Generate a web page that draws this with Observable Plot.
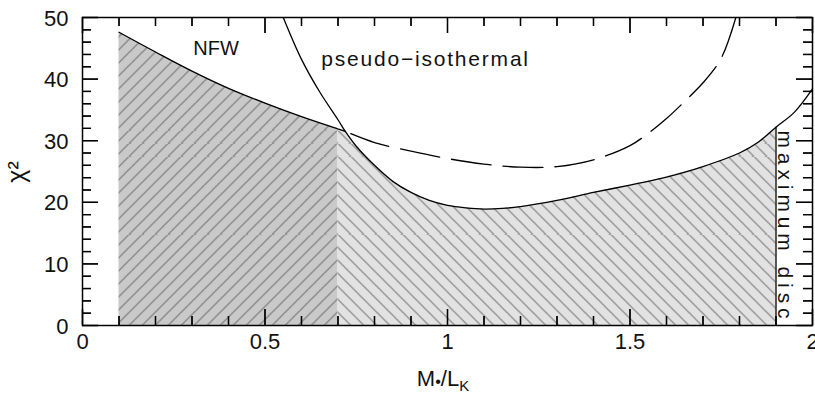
<!DOCTYPE html>
<html>
<head>
<meta charset="utf-8">
<script src="https://cdn.jsdelivr.net/npm/d3@7"></script>
<script src="https://cdn.jsdelivr.net/npm/@observablehq/plot@0.6"></script>
<style>
  body { margin: 0; background: #fff; }
  #chart svg { display: block; }
  #patterns { position: absolute; width: 0; height: 0; overflow: hidden; }
  .label-iso text { letter-spacing: 1.8px; }
  .label-disc text { letter-spacing: 4.9px; }
</style>
</head>
<body>
<!-- hatch fills shared by the shaded ranges -->
<svg id="patterns" aria-hidden="true">
  <defs>
    <pattern id="hatch-nfw" patternUnits="userSpaceOnUse" width="13" height="13">
      <rect width="13" height="13" fill="#c9c9c9"></rect>
      <path d="M0,13L13,0M-2,2L2,-2M11,15L15,11" stroke="#787878" stroke-width="1.2" fill="none"></path>
    </pattern>
    <pattern id="hatch-iso" patternUnits="userSpaceOnUse" width="13" height="13">
      <rect width="13" height="13" fill="#e2e2e2"></rect>
      <path d="M0,0L13,13M-2,11L2,15M11,-2L15,2" stroke="#808080" stroke-width="1.2" fill="none"></path>
    </pattern>
  </defs>
</svg>
<div id="chart"></div>
<script>
// Chi-squared of rotation-curve fits versus stellar mass-to-light ratio (K band)

// NFW halo fits
const nfwML   = [0.1, 0.2, 0.3, 0.4, 0.5, 0.6, 0.7, 0.72, 0.8, 0.9, 1.0, 1.1, 1.2, 1.3, 1.4, 1.5, 1.55, 1.6, 1.65, 1.7, 1.75, 1.79];
const nfwChi2 = [47.6, 44.4, 41.3, 38.5, 36.1, 33.9, 31.9, 31.5, 29.7, 28.3, 27.1, 26.2, 25.7, 25.8, 26.9, 29.2, 31.2, 33.6, 36.4, 39.4, 43.4, 50.0];

// pseudo-isothermal halo fits
const isoML   = [0.55, 0.6, 0.65, 0.7, 0.72, 0.75, 0.8, 0.85, 0.9, 0.95, 1.0, 1.05, 1.1, 1.15, 1.2, 1.3, 1.4, 1.5, 1.6, 1.7, 1.8, 1.85, 1.9, 1.95, 2.0];
const isoChi2 = [50.0, 43.2, 37.9, 33.4, 31.5, 29.1, 26.0, 23.4, 21.6, 20.3, 19.5, 19.1, 18.9, 19.0, 19.3, 20.3, 21.6, 22.8, 24.1, 25.8, 28.0, 29.7, 32.2, 34.6, 38.4];

// mass-to-light limits of the shaded ranges
const mlMin = 0.1;        // lower end of the NFW range
const mlSplit = 0.7;      // NFW range ends, pseudo-isothermal range begins
const mlCross = 0.72;     // the two curves cross here
const mlMaxDisc = 1.9;    // maximum disc

// axis ticks
const xMajor = [0, 0.5, 1, 1.5, 2];
const xTickLabels = ["0", "0.5", "1", "1.5", "2"];
const xMinor = [0.1, 0.2, 0.3, 0.4, 0.6, 0.7, 0.8, 0.9, 1.1, 1.2, 1.3, 1.4, 1.6, 1.7, 1.8, 1.9];
const yMajor = [0, 10, 20, 30, 40, 50];
const yTickLabels = ["0", "10", "20", "30", "40", "50"];
const yMinor = [2, 4, 6, 8, 12, 14, 16, 18, 22, 24, 26, 28, 32, 34, 36, 38, 42, 44, 46, 48];

const nfw = nfwML.map((x, i) => ({x, y: nfwChi2[i]}));
const iso = isoML.map((x, i) => ({x, y: isoChi2[i]}));

const nfwSolid = nfw.filter(d => d.x <= mlCross);
const nfwDashed = nfw.filter(d => d.x >= mlCross);
const nfwShade = nfw.filter(d => d.x >= mlMin && d.x <= mlSplit);
const isoShade = [nfw.find(d => d.x === mlSplit), ...iso.filter(d => d.x >= mlCross && d.x <= mlMaxDisc)];
const maxDiscEdge = iso.filter(d => d.x === mlMaxDisc);

const font = "'Liberation Sans', Arial, Helvetica, sans-serif";
const curve = "catmull-rom";
const majorLen = 16, minorLen = 9;

// inward tick marks: a zero-length rule on the frame edge, stretched by a negative inset
const tickStyle = {stroke: "#000", strokeWidth: 1.3};
const ticksBottom = (v, len) => Plot.ruleX(v, {x: d => d, y1: 0, y2: 0, insetTop: -len, ...tickStyle});
const ticksTop = (v, len) => Plot.ruleX(v, {x: d => d, y1: 50, y2: 50, insetBottom: -len, ...tickStyle});
const ticksLeft = (v, len) => Plot.ruleY(v, {y: d => d, x1: 0, x2: 0, insetRight: -len, ...tickStyle});
const ticksRight = (v, len) => Plot.ruleY(v, {y: d => d, x1: 2, x2: 2, insetLeft: -len, ...tickStyle});

const chart = Plot.plot({
  width: 815,
  height: 396,
  marginLeft: 82,
  marginRight: 3,
  marginTop: 17,
  marginBottom: 71,
  x: {domain: [0, 2], axis: null},
  y: {domain: [0, 50], axis: null},
  style: {fontFamily: font, color: "#111", background: "#fff", overflow: "visible"},
  marks: [
    // hatched ranges
    Plot.areaY(nfwShade, {x: "x", y: "y", curve, fill: "url(#hatch-nfw)"}),
    Plot.areaY(isoShade, {x: "x", y: "y", curve, fill: "url(#hatch-iso)"}),
    Plot.ruleX(maxDiscEdge, {x: "x", y1: 0, y2: "y", stroke: "#000", strokeWidth: 1.3}),

    // fit curves
    Plot.line(nfwSolid, {x: "x", y: "y", curve, stroke: "#000", strokeWidth: 1.3, clip: true}),
    Plot.line(nfwDashed, {x: "x", y: "y", curve, stroke: "#000", strokeWidth: 1.3, strokeDasharray: "40,12", strokeDashoffset: 46, clip: true}),
    Plot.line(iso, {x: "x", y: "y", curve, stroke: "#000", strokeWidth: 1.3, clip: true}),

    // ticks on all four sides
    ticksBottom(xMajor, majorLen), ticksBottom(xMinor, minorLen),
    ticksTop(xMajor, majorLen), ticksTop(xMinor, minorLen),
    ticksLeft(yMajor, majorLen), ticksLeft(yMinor, minorLen),
    ticksRight(yMajor, majorLen), ticksRight(yMinor, minorLen),
    Plot.frame({stroke: "#000", strokeWidth: 1.5}),

    // tick labels
    Plot.text(xMajor, {x: d => d, text: (d, i) => xTickLabels[i], frameAnchor: "bottom", dy: 23, fontSize: 22, fill: "#111"}),
    Plot.text(yMajor, {y: d => d, text: (d, i) => yTickLabels[i], frameAnchor: "left", textAnchor: "end", dx: -14, dy: 1, fontSize: 22, fill: "#111"}),

    // curve labels
    Plot.text(["NFW"], {x: 0.366, y: 45.0, text: d => d, fontSize: 20, fill: "#111"}),
    Plot.text(["pseudo\u2212isothermal"], {x: 0.654, y: 43.2, text: d => d, textAnchor: "start", fontSize: 21, fill: "#111", className: "label-iso"}),
    Plot.text(["maximum disc"], {x: 1.924, y: 16.0, text: d => d, rotate: 90, fontSize: 21, fill: "#111", className: "label-disc"})
  ]
});

const xs = chart.scale("x"), ys = chart.scale("y");
const svg = d3.select(chart);

// anchor both hatchings at the split so their strokes meet in chevrons there
d3.selectAll("#patterns pattern")
  .attr("x", xs.apply(mlSplit))
  .attr("y", ys.apply(0));

// tick strokes drawn again on top, placed with the plot's own scales
const [frameLeft, frameRight] = xs.range;
const [frameBottom, frameTop] = ys.range;
const tg = svg.append("g").attr("stroke", "#000").attr("stroke-width", 1.3);
const tick = (x1, y1, x2, y2) => tg.append("line").attr("x1", x1).attr("y1", y1).attr("x2", x2).attr("y2", y2);
for (const [vals, len] of [[xMajor, majorLen], [xMinor, minorLen]]) {
  for (const v of vals) {
    const px = xs.apply(v) + 0.5;
    tick(px, frameBottom, px, frameBottom - len);
    tick(px, frameTop, px, frameTop + len);
  }
}
for (const [vals, len] of [[yMajor, majorLen], [yMinor, minorLen]]) {
  for (const v of vals) {
    const py = ys.apply(v) + 0.5;
    tick(frameLeft, py, frameLeft + len, py);
    tick(frameRight, py, frameRight - len, py);
  }
}

// axis titles
const cx = (frameLeft + frameRight) / 2;
const xt = svg.append("text")
  .attr("x", cx - 4).attr("y", 386)
  .attr("text-anchor", "middle")
  .attr("font-family", font).attr("font-size", 22).attr("fill", "#111");
xt.append("tspan").text("M");
xt.append("tspan").attr("font-size", 16).attr("dy", 1).text("\u2022");
xt.append("tspan").attr("dy", -1).text("/L");
xt.append("tspan").attr("font-size", 15).attr("dy", 5).text("K");

svg.append("text")
  .attr("transform", "translate(25,172) rotate(-90)")
  .attr("text-anchor", "middle")
  .attr("font-family", font).attr("font-size", 25).attr("fill", "#111")
  .text("\u03c7\u00b2");

document.getElementById("chart").appendChild(chart);
</script>
</body>
</html>
